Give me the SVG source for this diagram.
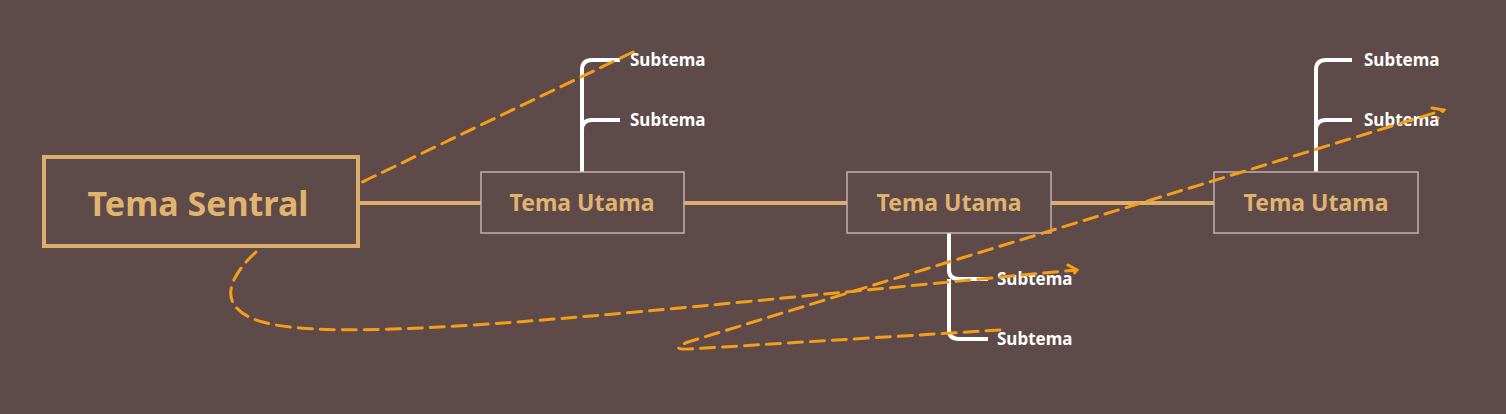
<svg xmlns="http://www.w3.org/2000/svg" width="1506" height="414" viewBox="0 0 1506 414">
<style>
.main{fill:#5d4a49;stroke:#bdb2b0;stroke-width:1.5}
.mt{font-family:"Noto Sans","Open Sans",sans-serif;font-weight:bold;fill:#e0b46e;font-size:23px;text-anchor:middle}
.big{font-size:34px}
.st{font-family:"Noto Sans","Open Sans",sans-serif;font-weight:bold;fill:#ffffff;font-size:17px}
.br{fill:none;stroke:#ffffff;stroke-width:4}
.ln{stroke:#dcae6c;stroke-width:4}
.d{fill:none;stroke:#f59e1b;stroke-width:3;stroke-dasharray:14 8;stroke-linecap:round}
</style>
<rect width="1506" height="414" fill="#5d4a49"/>
<g id="connectors">
<line class="ln" x1="358" y1="203" x2="481" y2="203"/>
<line class="ln" x1="684" y1="203" x2="847" y2="203"/>
<line class="ln" x1="1051" y1="203" x2="1214" y2="203"/>
<path class="br" d="M582,172 V70 Q582,60 592,60 H620 M582,130 Q582,120 592,120 H620"/>
<path class="br" d="M949,233 V270 Q949,279 959,279 H988 M949,279 V330 Q949,339 959,339 H988"/>
<path class="br" d="M1316,172 V70 Q1316,60 1326,60 H1352 M1316,130 Q1316,120 1326,120 H1352"/>
</g>
<g id="tema-sentral">
<rect x="44" y="157" width="314" height="89" fill="#5d4a49" stroke="#dcae6c" stroke-width="4"/>
<text x="198" y="216" class="mt big">Tema Sentral</text>
</g>
<g id="tema-utama-1"><rect class="main" x="481" y="172" width="203" height="61"/><text x="582" y="211" class="mt">Tema Utama</text></g>
<g id="tema-utama-2"><rect class="main" x="847" y="172" width="204" height="61"/><text x="949" y="211" class="mt">Tema Utama</text></g>
<g id="tema-utama-3"><rect class="main" x="1214" y="172" width="204" height="61"/><text x="1316" y="211" class="mt">Tema Utama</text></g>
<g id="subtemas">
<text x="630" y="66" class="st">Subtema</text>
<text x="630" y="126" class="st">Subtema</text>
<text x="997" y="285" class="st">Subtema</text>
<text x="997" y="345" class="st">Subtema</text>
<text x="1364" y="66" class="st">Subtema</text>
<text x="1364" y="126" class="st">Subtema</text>
</g>
<g id="annotations">
<path class="d" d="M633,52 L358,184"/>
<path class="d" d="M256,252 C215,290 220,322 300,328 C420,338 700,305 1076,270 M1068,265 L1077,270 L1071,277"/>
<path class="d" d="M1000,330 L690,349 Q668,350 688,342 L1444,110 M1432,108 L1444,110 L1438,118"/>
</g>
</svg>
